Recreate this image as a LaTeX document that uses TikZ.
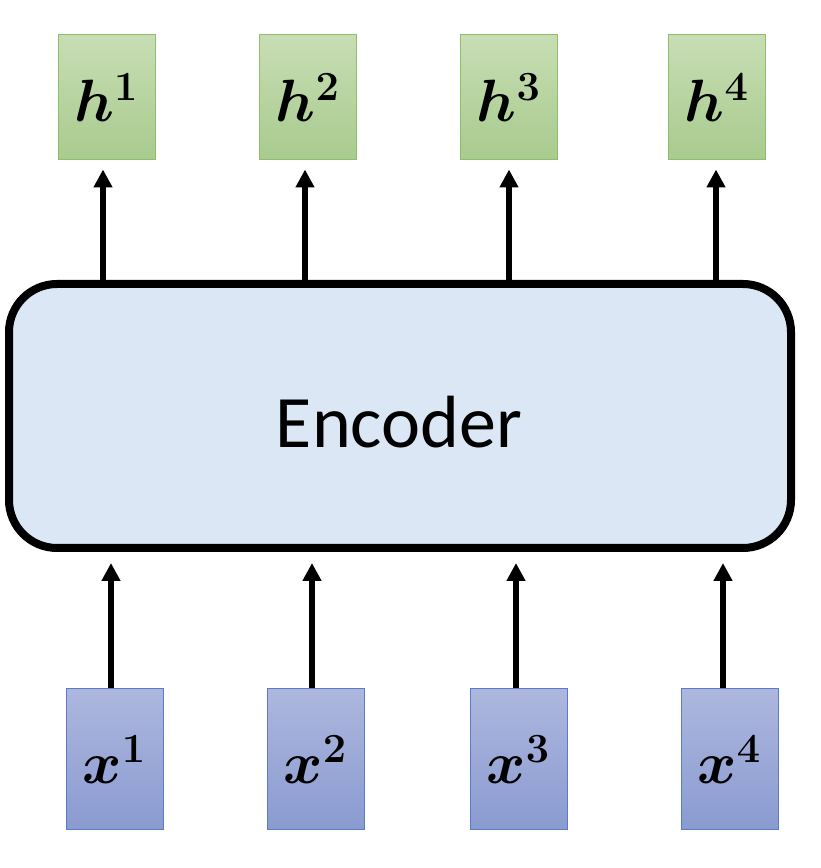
\documentclass[tikz,border=0pt]{standalone}
\usepackage{amsmath}
\usepackage{bm}
\usepackage{graphicx}
\usepackage{fontspec}
\newfontfamily\encfont{Carlito}
\usetikzlibrary{arrows.meta}

\definecolor{hborder}{HTML}{8DBF6A}
\definecolor{htop}{HTML}{C8DDB4}
\definecolor{hbot}{HTML}{A8CB8E}
\definecolor{xborder}{HTML}{5A7BC8}
\definecolor{xtop}{HTML}{ADB7DE}
\definecolor{xbot}{HTML}{8A9BD1}
\definecolor{encfill}{HTML}{DCE7F5}

% large bold symbol with bold superscript
\newcommand{\vecsym}[2]{\scalebox{2.4}{$\bm{#1}^{\bm{#2}}$}}

\tikzset{
  hbox/.style={rectangle, draw=hborder, line width=1pt, top color=htop, bottom color=hbot,
    minimum width=97pt, minimum height=125pt, inner sep=0pt, font=\fontsize{24}{28}\selectfont},
  xbox/.style={rectangle, draw=xborder, line width=1pt, top color=xtop, bottom color=xbot,
    minimum width=97pt, minimum height=141pt, inner sep=0pt, font=\fontsize{24}{28}\selectfont},
  flow/.style={line width=5.5pt, -{Triangle[length=18pt,width=18pt]}}
}

\begin{document}
\begin{tikzpicture}[x=1pt, y=1pt]
\useasboundingbox (0,0) rectangle (820,868);

\node[rectangle, draw, line width=8pt, rounded corners=48pt, fill=encfill,
      minimum width=782pt, minimum height=264pt] (enc) at (400,452) {};
\node[font=\encfont\fontsize{74}{80}\selectfont] (lbl) at (399,446) {Encoder};

% outputs
\node[hbox] (h1) at (106.5,770.5) {\vecsym{h}{1}};
\node[hbox] (h2) at (308,770.5)   {\vecsym{h}{2}};
\node[hbox] (h3) at (509,770.5)   {\vecsym{h}{3}};
\node[hbox] (h4) at (717,770.5)   {\vecsym{h}{4}};

% inputs
\node[xbox] (x1) at (114.5,108.5) {\raisebox{-10pt}{\vecsym{x}{1}}};
\node[xbox] (x2) at (315.5,108.5) {\raisebox{-10pt}{\vecsym{x}{2}}};
\node[xbox] (x3) at (518.5,108.5) {\raisebox{-10pt}{\vecsym{x}{3}}};
\node[xbox] (x4) at (729.5,108.5) {\raisebox{-10pt}{\vecsym{x}{4}}};

\draw[flow, shorten >=9pt] (enc.north -| 103,0) -- (h1.south -| 103,0);
\draw[flow, shorten >=9pt] (enc.north -| 305,0) -- (h2.south -| 305,0);
\draw[flow, shorten >=9pt] (enc.north -| 509,0) -- (h3.south -| 509,0);
\draw[flow, shorten >=9pt] (enc.north -| 716,0) -- (h4.south -| 716,0);

\draw[flow, shorten >=11pt] (x1.north -| 111,0) -- (enc.south -| 111,0);
\draw[flow, shorten >=11pt] (x2.north -| 312,0) -- (enc.south -| 312,0);
\draw[flow, shorten >=11pt] (x3.north -| 516,0) -- (enc.south -| 516,0);
\draw[flow, shorten >=11pt] (x4.north -| 723,0) -- (enc.south -| 723,0);
\end{tikzpicture}
\end{document}
